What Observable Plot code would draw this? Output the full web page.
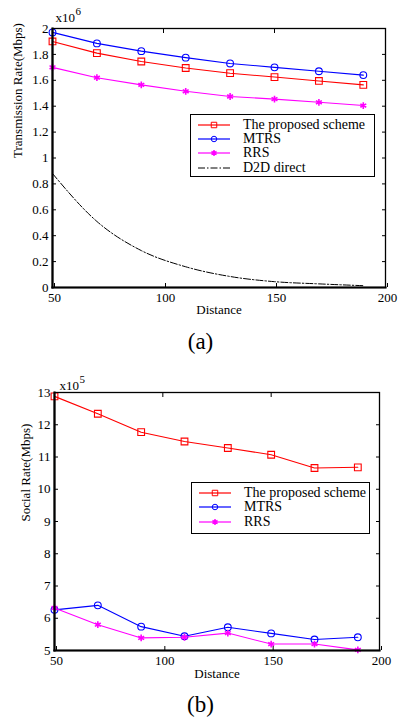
<!DOCTYPE html>
<html>
<head>
<meta charset="utf-8">
<script src="https://cdn.jsdelivr.net/npm/d3@7"></script>
<script src="https://cdn.jsdelivr.net/npm/@observablehq/plot@0.6"></script>
<style>
  html, body { margin: 0; padding: 0; background: #fff; }
  #root { position: relative; width: 401px; height: 720px; overflow: hidden; font-family: "Liberation Serif", "Times New Roman", serif; }
  #root svg, #root svg text { font-family: "Liberation Serif", "Times New Roman", serif !important; }
  .panel { position: absolute; left: 0; }
  .caption { position: absolute; width: 401px; left: 0; text-align: center; font-size: 23px; line-height: 1; }
  .legend { position: absolute; border: 1px solid #000; background: #fff; box-sizing: border-box; }
  .legend .row { position: absolute; left: 0; height: 14px; display: flex; align-items: center; font-size: 14px; white-space: nowrap; }
  .legend svg { margin-left: 7px; margin-right: 13px; }
</style>
</head>
<body>
<div id="root"></div>
<script>
// ---------- data ----------
const distance = [50, 70, 90, 110, 130, 150, 170, 190];

// (a) Transmission Rate (x10^6 Mbps)
const transProposed = [1.90, 1.81, 1.745, 1.695, 1.655, 1.625, 1.595, 1.565];
const transMTRS     = [1.97, 1.885, 1.825, 1.775, 1.73, 1.70, 1.67, 1.64];
const transRRS      = [1.70, 1.62, 1.565, 1.515, 1.475, 1.455, 1.43, 1.405];
const transD2D      = [0.88, 0.51, 0.285, 0.16, 0.085, 0.045, 0.028, 0.014];

// (b) Social Rate (x10^5 Mbps)
const socialProposed = [12.88, 12.34, 11.77, 11.48, 11.28, 11.07, 10.66, 10.68];
const socialMTRS     = [6.26, 6.40, 5.74, 5.44, 5.72, 5.53, 5.34, 5.41];
const socialRRS      = [6.32, 5.80, 5.39, 5.41, 5.54, 5.20, 5.20, 5.02];

const seriesNames = ["The proposed scheme", "MTRS", "RRS", "D2D direct"];
const xTicks = [50, 100, 150, 200];
const xDomain = [50, 200];
const yTicksA = [0, 0.2, 0.4, 0.6, 0.8, 1, 1.2, 1.4, 1.6, 1.8, 2];
const yDomainA = [0, 2];
const yTicksB = [5, 6, 7, 8, 9, 10, 11, 12, 13];
const yDomainB = [5, 13];

// ---------- styles ----------
const RED = "#ff0000", BLUE = "#0000ff", MAG = "#ff00ff";
const FONT = "Liberation Serif";
const fmt = d3.format("~g");
const none = () => "";
const toRows = (vals) => distance.map((x, i) => ({x, y: vals[i]}));

function frameMarks(yTicks) {
  return [
    Plot.axisX({ticks: xTicks, tickSize: -4, tickPadding: 9, tickFormat: fmt, label: null, fontSize: 13, fontFamily: FONT, dx: 2}),
    Plot.axisX({ticks: xTicks, anchor: "top", tickSize: -4, tickFormat: none, label: null}),
    Plot.axisY({ticks: yTicks, tickSize: -4, tickPadding: 8, tickFormat: fmt, label: null, fontSize: 13, fontFamily: FONT}),
    Plot.axisY({ticks: yTicks, anchor: "right", tickSize: -4, tickFormat: none, label: null}),
    Plot.frame({stroke: "#000", strokeWidth: 1.3}),
    Plot.frame({anchor: "left", stroke: "#000", strokeWidth: 2.2}),
    Plot.frame({anchor: "bottom", stroke: "#000", strokeWidth: 2.2})
  ];
}

function lineWithDots(vals, color, symbol, r) {
  return [
    Plot.line(toRows(vals), {x: "x", y: "y", stroke: color, strokeWidth: 1.1}),
    Plot.dot(toRows(vals), {x: "x", y: "y", stroke: color, fill: symbol === "asterisk" ? color : "none", symbol, r, strokeWidth: symbol === "asterisk" ? 1.6 : 1.1})
  ];
}

const baseStyle = {fontFamily: '"Liberation Serif", serif', fontSize: "13px", color: "#000", background: "transparent", overflow: "visible"};

// ---------- (a) ----------
const chartA = Plot.plot({
  width: 401, height: 360,
  marginTop: 28, marginLeft: 52, marginRight: 16, marginBottom: 73,
  x: {domain: xDomain}, y: {domain: yDomainA},
  style: baseStyle,
  marks: [
    Plot.line(toRows(transD2D), {x: "x", y: "y", stroke: "#000", strokeWidth: 1, strokeDasharray: "7,2,1.5,2", curve: "monotone-x"}),
    ...lineWithDots(transRRS, MAG, "asterisk", 3.2),
    ...lineWithDots(transProposed, RED, "square", 3.8),
    ...lineWithDots(transMTRS, BLUE, "circle", 3.4),
    ...frameMarks(yTicksA),
    Plot.text(["Distance"], {frameAnchor: "bottom", dy: 22, fontSize: 13, lineAnchor: "middle", fontFamily: FONT}),
    Plot.text(["Transmission Rate(Mbps)"], {frameAnchor: "left", rotate: -90, dx: -35, fontSize: 13, fontFamily: FONT}),
    Plot.text(["x10"], {frameAnchor: "top-left", textAnchor: "start", lineAnchor: "bottom", dx: 3, dy: -7, fontSize: 13, fontFamily: FONT}),
    Plot.text(["6"], {frameAnchor: "top-left", textAnchor: "start", lineAnchor: "bottom", dx: 23, dy: -14, fontSize: 11, fontFamily: FONT})
  ]
});

// ---------- (b) ----------
const chartB = Plot.plot({
  width: 401, height: 360,
  marginTop: 32, marginLeft: 54, marginRight: 22, marginBottom: 70,
  x: {domain: xDomain}, y: {domain: yDomainB},
  style: baseStyle,
  marks: [
    ...lineWithDots(socialMTRS, BLUE, "circle", 3.4),
    ...lineWithDots(socialRRS, MAG, "asterisk", 3.2),
    ...lineWithDots(socialProposed, RED, "square", 3.8),
    ...frameMarks(yTicksB),
    Plot.text(["Distance"], {frameAnchor: "bottom", dy: 23, fontSize: 13, lineAnchor: "middle", fontFamily: FONT}),
    Plot.text(["Social Rate(Mbps)"], {frameAnchor: "left", rotate: -90, dx: -29, fontSize: 13, fontFamily: FONT}),
    Plot.text(["x10"], {frameAnchor: "top-left", textAnchor: "start", lineAnchor: "bottom", dx: 5, dy: -3, fontSize: 13, fontFamily: FONT}),
    Plot.text(["5"], {frameAnchor: "top-left", textAnchor: "start", lineAnchor: "bottom", dx: 25, dy: -10, fontSize: 11, fontFamily: FONT})
  ]
});

// ---------- assemble ----------
const root = document.getElementById("root");
function place(el, top) {
  const w = document.createElement("div");
  w.className = "panel"; w.style.top = top + "px";
  w.appendChild(el); root.appendChild(w);
}
place(chartA, 0);
place(chartB, 360);

function caption(text, top) {
  const d = document.createElement("div");
  d.className = "caption"; d.style.top = top + "px"; d.textContent = text;
  root.appendChild(d);
}
caption("(a)", 330);
caption("(b)", 693);

function symbolSvg(color, kind) {
  const ns = "http://www.w3.org/2000/svg";
  const s = document.createElementNS(ns, "svg");
  s.setAttribute("width", 32); s.setAttribute("height", 10);
  const ln = document.createElementNS(ns, "line");
  ln.setAttribute("x1", 0); ln.setAttribute("x2", 32); ln.setAttribute("y1", 5); ln.setAttribute("y2", 5);
  ln.setAttribute("stroke", color); ln.setAttribute("stroke-width", kind === "dashdot" ? 1 : 1.2);
  if (kind === "dashdot") ln.setAttribute("stroke-dasharray", "7,2,1.5,2");
  s.appendChild(ln);
  if (kind !== "dashdot") {
    const p = document.createElementNS(ns, "path");
    const sym = {square: d3.symbolSquare, circle: d3.symbolCircle, asterisk: d3.symbolAsterisk}[kind];
    p.setAttribute("d", d3.symbol(sym, kind === "square" ? 30 : 24)());
    p.setAttribute("transform", "translate(16,5)");
    p.setAttribute("stroke", color);
    p.setAttribute("fill", kind === "asterisk" ? color : "none");
    p.setAttribute("stroke-width", kind === "asterisk" ? 1.5 : 1);
    s.appendChild(p);
  }
  return s;
}

function legend(left, top, width, height, items, rowTops) {
  const box = document.createElement("div");
  box.className = "legend";
  Object.assign(box.style, {left: left + "px", top: top + "px", width: width + "px", height: height + "px"});
  items.forEach((it, i) => {
    const row = document.createElement("div");
    row.className = "row"; row.style.top = rowTops[i] + "px";
    row.appendChild(symbolSvg(it.color, it.kind));
    const t = document.createElement("span"); t.textContent = it.name;
    row.appendChild(t);
    box.appendChild(row);
  });
  root.appendChild(box);
}

legend(190, 114, 185, 63, [
  {name: seriesNames[0], color: RED, kind: "square"},
  {name: seriesNames[1], color: BLUE, kind: "circle"},
  {name: seriesNames[2], color: MAG, kind: "asterisk"},
  {name: seriesNames[3], color: "#000", kind: "dashdot"}
], [3, 17, 31, 46]);

legend(191, 482, 179, 52, [
  {name: seriesNames[0], color: RED, kind: "square"},
  {name: seriesNames[1], color: BLUE, kind: "circle"},
  {name: seriesNames[2], color: MAG, kind: "asterisk"}
], [3, 17, 32]);
</script>
</body>
</html>
